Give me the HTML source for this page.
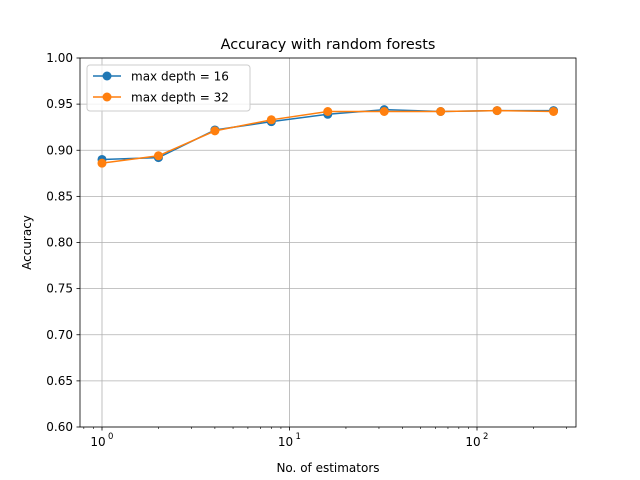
<!DOCTYPE html>
<html><head><meta charset="utf-8"><style>
body{margin:0;background:#fff}
svg{display:block;font-family:"DejaVu Sans","Liberation Sans",sans-serif}
</style></head><body>
<svg id="chart" width="640" height="480">
<rect width="640" height="480" fill="#fff"/>
<text x="328" y="49" font-size="14.4" text-anchor="middle">Accuracy with random forests</text>
<g id="grid"></g>
<g id="axes"></g>
<g id="series"></g>
<rect x="80" y="58" width="496" height="369" fill="none" stroke="#000" stroke-width="0.8"/>
<text x="328" y="472" font-size="12" text-anchor="middle">No. of estimators</text>
<text transform="translate(31,242.5) rotate(-90)" font-size="12" text-anchor="middle">Accuracy</text>
<g>
<rect x="87" y="65" width="163" height="46" rx="3" fill="#fff" fill-opacity="0.8" stroke="#ccc"/>
<g>
<line x1="93" y1="76" x2="121" y2="76" stroke="#1f77b4" stroke-width="1.5"/><circle cx="107" cy="76" r="4.5" fill="#1f77b4"/>
<text x="131" y="80.5" font-size="12">max depth = 16</text></g>
<g>
<line x1="93" y1="97" x2="121" y2="97" stroke="#ff7f0e" stroke-width="1.5"/><circle cx="107" cy="97" r="4.5" fill="#ff7f0e"/>
<text x="131" y="101.5" font-size="12">max depth = 32</text></g>
</g>
</svg>
<script>
const estimators=[1,2,4,8,16,32,64,128,256];
const depth16=[0.890,0.892,0.922,0.931,0.939,0.944,0.942,0.943,0.943];
const depth32=[0.886,0.894,0.921,0.933,0.942,0.942,0.942,0.943,0.942];
const yTicks=[0.60,0.65,0.70,0.75,0.80,0.85,0.90,0.95,1.00];
const xDecades=[0,1,2];
const NS="http://www.w3.org/2000/svg";
function X(v){return 102+Math.log10(v)*187.5;}
function Y(v){return 427-(v-0.60)/0.40*369;}
function mk(t,a,p){const e=document.createElementNS(NS,t);for(const k in a)e.setAttribute(k,a[k]);p.appendChild(e);return e;}
const grid=document.getElementById('grid'),axes=document.getElementById('axes'),ser=document.getElementById('series');
yTicks.forEach(v=>{const y=Y(v);
 const g=mk('line',{x1:80,x2:576,y1:y,y2:y,stroke:'#b0b0b0','stroke-width':0.8},grid);
 
 
 mk('line',{x1:76.5,x2:80,y1:y,y2:y,stroke:'#000','stroke-width':0.8},axes);
 const t=mk('text',{x:73,y:y+4,'font-size':12,'text-anchor':'end'},axes);t.textContent=v.toFixed(2);
 
 
});
xDecades.forEach(d=>{const x=X(Math.pow(10,d));
 const g=mk('line',{x1:x,x2:x,y1:58,y2:427,stroke:'#b0b0b0','stroke-width':0.8},grid);
 
 
 mk('line',{x1:x,x2:x,y1:427,y2:430.5,stroke:'#000','stroke-width':0.8},axes);
 const t=mk('text',{x:x-4,y:446,'font-size':12,'text-anchor':'middle'},axes);
 t.textContent='10';
 
 
 const s=mk('text',{x:x+6,y:439,'font-size':8.5},axes);s.textContent=String(d);
});
for(let d=-1;d<=2;d++)for(let m=2;m<=9;m++){const x=X(m*Math.pow(10,d));if(x<80||x>576)continue;
 mk('line',{x1:x,x2:x,y1:427,y2:429,stroke:'#000','stroke-width':0.6},axes);}
function series(vals,color,name){
 const p=mk('polyline',{points:estimators.map((e,i)=>X(e)+','+Y(vals[i])).join(' '),fill:'none',stroke:color,'stroke-width':1.5},ser);
 
 
 estimators.forEach((e,i)=>{const c=mk('circle',{cx:X(e),cy:Y(vals[i]),r:4.5,fill:color},ser);
  
  });
}
series(depth16,'#1f77b4','depth-16');
series(depth32,'#ff7f0e','depth-32');
</script>
</body></html>
